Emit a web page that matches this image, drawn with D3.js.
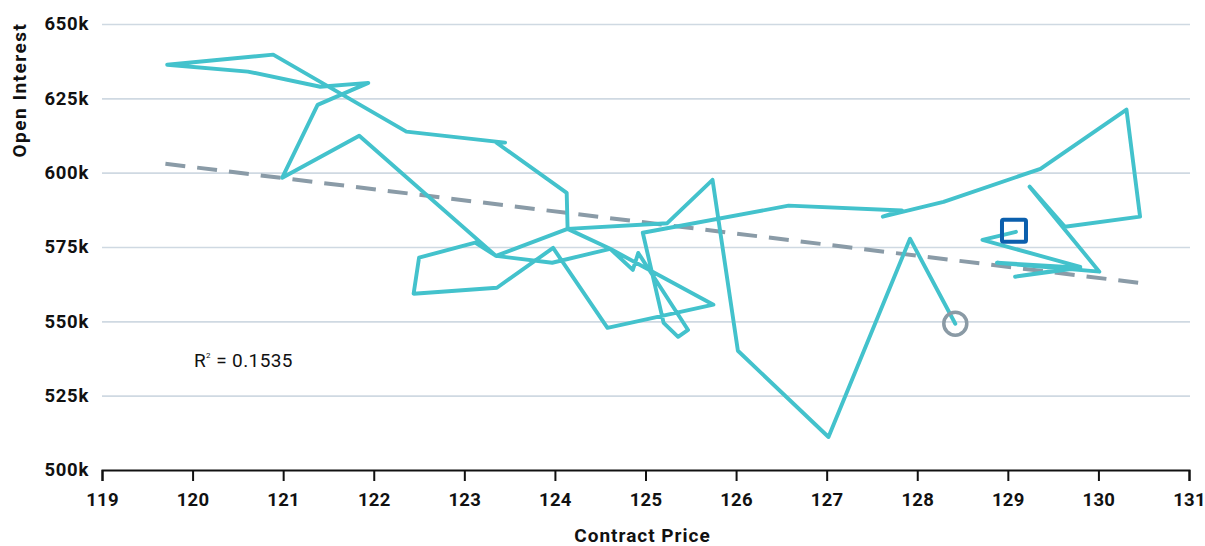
<!DOCTYPE html>
<html>
<head>
<meta charset="utf-8">
<script src="https://cdn.jsdelivr.net/npm/d3@7"></script>
<style>
  html, body { margin: 0; padding: 0; background: #ffffff; }
  svg { display: block; }
  text { font-family: Roboto, "Open Sans", sans-serif; }
</style>
</head>
<body>
<svg id="chart" width="1205" height="546"></svg>
<script>
// ---- data ----
const contractPrice = [
  128.42, 127.92, 127.02, 126.02, 125.74, 125.24, 124.14, 124.13, 123.34, 123.45,
  122.36, 120.89, 119.72, 120.61, 121.41, 121.94, 121.38, 120.99, 121.84, 123.35,
  123.12, 122.50, 122.44, 123.36, 123.98, 124.58, 125.75, 124.61, 124.14, 123.35,
  123.97, 124.61, 124.86, 124.92, 125.47, 125.36, 125.20, 124.97, 126.58, 127.83,
  127.62, 128.29, 129.36, 130.31, 130.46, 129.63, 129.24, 130.01, 128.88, 129.80,
  129.08, 129.80, 128.72, 129.09
];
const openInterestK = [
  549.2, 577.8, 511.1, 540.1, 597.6, 583.0, 581.1, 593.2, 610.4, 610.1,
  613.8, 639.7, 636.3, 634.0, 628.9, 630.2, 622.8, 598.3, 612.4, 572.0,
  576.5, 571.4, 559.3, 561.3, 574.7, 547.8, 555.6, 574.4, 581.1, 572.0,
  569.7, 574.4, 567.3, 573.0, 547.1, 544.8, 549.5, 579.8, 588.9, 587.3,
  585.2, 590.2, 601.3, 621.2, 585.2, 581.8, 595.3, 566.7, 569.7, 568.0,
  565.0, 568.3, 577.4, 580.1
];
const trendPrice = [119.7, 130.54];
const trendOIK = [603.0, 562.6];
const xTicks = [119, 120, 121, 122, 123, 124, 125, 126, 127, 128, 129, 130, 131];
const yTicks = [500, 525, 550, 575, 600, 625, 650];
const rSquaredLabel = "0.1535";
const xTitle = "Contract Price";
const yTitle = "Open Interest";

// ---- layout ----
const svg = d3.select("#chart");
const plotL = 102, plotR = 1189, plotT = 24, plotB = 470;

const x = d3.scaleLinear().domain([119, 131]).range([plotL, plotR]);
const y = d3.scaleLinear().domain([500, 650]).range([plotB, plotT]);

// grid lines + y labels
const yAxis = d3.axisLeft(y)
  .tickValues(yTicks)
  .tickSize(-(plotR - plotL + 1))
  .tickPadding(13)
  .tickFormat(d => d + "k");
const gy = svg.append("g").attr("transform", `translate(${plotL},0)`).call(yAxis);
gy.select(".domain").remove();
gy.selectAll(".tick line")
  .attr("stroke", "#cfd9e2").attr("stroke-width", 1.6)
  .filter(d => d === 500).remove();
gy.selectAll(".tick text")
  .attr("fill", "#111").attr("font-size", 18.5).attr("font-weight", 700)
  .attr("letter-spacing", "0.7px")
  .style("font-family", "Roboto, sans-serif");

// x axis
const xAxis = d3.axisBottom(x)
  .tickValues(xTicks)
  .tickSize(11)
  .tickPadding(12)
  .tickFormat(d3.format("d"));
const gx = svg.append("g").attr("transform", `translate(0,${plotB})`).call(xAxis);
gx.select(".domain").attr("stroke", "#111").attr("stroke-width", 2);
gx.selectAll(".tick line").attr("stroke", "#111").attr("stroke-width", 2);
gx.selectAll(".tick text")
  .attr("fill", "#111").attr("font-size", 18.5).attr("font-weight", 700)
  .attr("letter-spacing", "0.3px")
  .style("font-family", "Roboto, sans-serif");

// axis titles
svg.append("text")
  .attr("x", (plotL + plotR) / 2 - 3).attr("y", 542)
  .attr("text-anchor", "middle")
  .attr("font-size", 19).attr("font-weight", 700).attr("letter-spacing", "1px")
  .attr("fill", "#111")
  .text(xTitle);
svg.append("text")
  .attr("transform", `translate(26,90) rotate(-90)`)
  .attr("text-anchor", "middle")
  .attr("font-size", 19).attr("font-weight", 700).attr("letter-spacing", "1.5px")
  .attr("fill", "#111")
  .text(yTitle);

// trend line
const trendData = trendPrice.map((p, i) => [p, trendOIK[i]]);
svg.append("path")
  .datum(trendData)
  .attr("d", d3.line().x(d => x(d[0])).y(d => y(d[1])))
  .attr("fill", "none")
  .attr("stroke", "#8a9ba7")
  .attr("stroke-width", 4)
  .attr("stroke-dasharray", "20 12");

// connected scatter line
const pts = contractPrice.map((p, i) => [p, openInterestK[i]]);
svg.append("path")
  .datum(pts)
  .attr("d", d3.line().x(d => x(d[0])).y(d => y(d[1])))
  .attr("fill", "none")
  .attr("stroke", "#43c2cc")
  .attr("stroke-width", 3.9)
  .attr("stroke-linecap", "round")
  .attr("stroke-linejoin", "round");

// start marker (circle) and end marker (square)
const first = pts[0], last = pts[pts.length - 1];
svg.append("circle")
  .attr("cx", x(first[0])).attr("cy", y(first[1])).attr("r", 11.5)
  .attr("fill", "none").attr("stroke", "#8a9aa5").attr("stroke-width", 3.5);
svg.append("rect")
  .attr("x", x(last[0]) - 14).attr("y", y(last[1]) - 12)
  .attr("width", 24).attr("height", 22)
  .attr("fill", "none").attr("stroke", "#0b5fad").attr("stroke-width", 4)
  .attr("rx", 1.5);

// R² annotation
const rt = svg.append("text")
  .attr("x", 194).attr("y", 367)
  .attr("font-size", 19).attr("letter-spacing", "0.4px").attr("fill", "#111");
rt.append("tspan").text("R");
rt.append("tspan").attr("font-size", 8).attr("dy", -9).text("2");
rt.append("tspan").attr("dy", 9).text(" = " + rSquaredLabel);
</script>
</body>
</html>
